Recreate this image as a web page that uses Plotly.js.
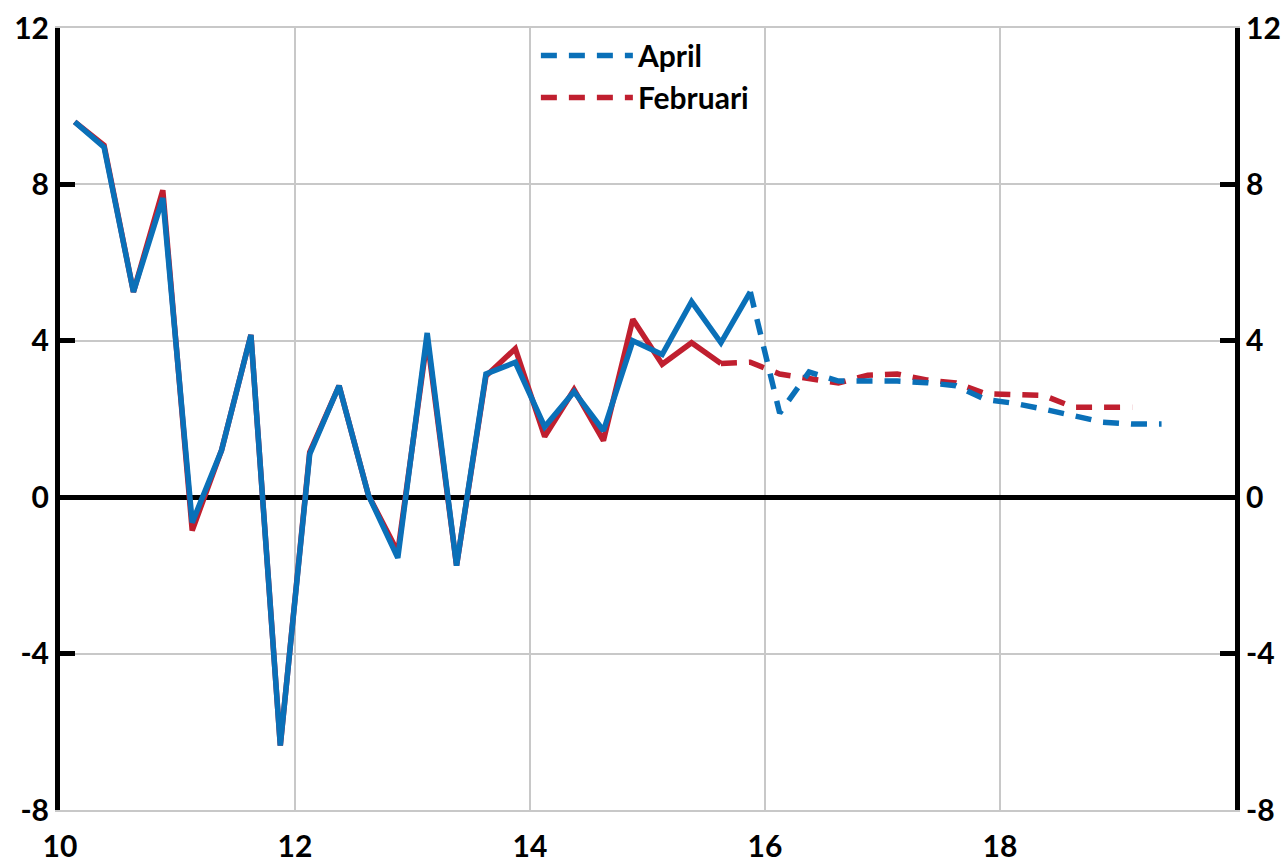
<!DOCTYPE html>
<html>
<head>
<meta charset="utf-8">
<script src="https://cdn.plot.ly/plotly-3.0.1.min.js"></script>
<style>
  html, body { margin: 0; padding: 0; background: #ffffff; }
  #chart { width: 1286px; height: 867px; }
</style>
</head>
<body>
<div id="chart"></div>
<script>
// Quarters (year 2010 = "10")
const quarters = [
  "10Q1","10Q2","10Q3","10Q4","11Q1","11Q2","11Q3","11Q4",
  "12Q1","12Q2","12Q3","12Q4","13Q1","13Q2","13Q3","13Q4",
  "14Q1","14Q2","14Q3","14Q4","15Q1","15Q2","15Q3","15Q4",
  "16Q1","16Q2","16Q3","16Q4","17Q1","17Q2","17Q3","17Q4",
  "18Q1","18Q2","18Q3","18Q4","19Q1","19Q2"
];

// April forecast: outcome through 15Q4, forecast afterwards
const aprilValues = [
  9.6, 8.95, 5.25, 7.65, -0.65, 1.2, 4.15, -6.35,
  1.1, 2.85, 0.05, -1.55, 4.2, -1.75, 3.15, 3.45,
  1.8, 2.7, 1.7, 4.0, 3.65, 5.0, 3.95, 5.25,
  2.15, 3.2, 2.97, 2.97, 2.97, 2.93, 2.85, 2.5,
  2.4, 2.25, 2.1, 1.92, 1.87, 1.87
];
const aprilLastOutcome = "15Q4";

// Februari forecast: outcome through 15Q3, forecast afterwards
const februariValues = [
  9.6, 9.0, 5.25, 7.85, -0.85, 1.2, 4.15, -6.35,
  1.15, 2.85, 0.05, -1.4, 4.05, -1.75, 3.1, 3.8,
  1.55, 2.75, 1.45, 4.55, 3.4, 3.95, 3.42, 3.45,
  3.15, 3.05, 2.92, 3.12, 3.15, 3.0, 2.92, 2.65,
  2.62, 2.6, 2.3, 2.3, 2.3
];
const februariLastOutcome = "15Q3";

const yTicks = [-8, -4, 0, 4, 8, 12];
const xTicks = [10, 12, 14, 16, 18];

// quarter label -> position on the year axis (middle of the quarter)
function qpos(q) {
  const yr = parseInt(q.slice(0, 2), 10);
  const qq = parseInt(q.slice(3), 10);
  return yr + (qq - 0.5) / 4;
}

function splitSeries(values, lastOutcome) {
  const xs = values.map((v, i) => qpos(quarters[i]));
  const cut = quarters.indexOf(lastOutcome);
  return {
    solidX: xs.slice(0, cut + 1), solidY: values.slice(0, cut + 1),
    dashX: xs.slice(cut), dashY: values.slice(cut)
  };
}

const BLUE = "#0a70b8";
const RED = "#c01f2f";
const LW = 5.5;
const DASH = "16px,12px";

const a = splitSeries(aprilValues, aprilLastOutcome);
const f = splitSeries(februariValues, februariLastOutcome);

const traces = [
  { x: f.solidX, y: f.solidY, mode: "lines", line: { color: RED, width: LW }, showlegend: false, hoverinfo: "skip" },
  { x: f.dashX, y: f.dashY, mode: "lines", name: "Februari", legendrank: 2,
    line: { color: RED, width: LW, dash: DASH } },
  { x: a.solidX, y: a.solidY, mode: "lines", line: { color: BLUE, width: LW }, showlegend: false, hoverinfo: "skip" },
  { x: a.dashX, y: a.dashY, mode: "lines", name: "April", legendrank: 1,
    line: { color: BLUE, width: LW, dash: DASH } },
  { x: [10, 20], y: [null, null], yaxis: "y2", mode: "lines", showlegend: false, hoverinfo: "skip" }
];

const tickFont = { family: "Lato, 'Open Sans', sans-serif", size: 30, color: "#000", weight: "bold" };

const layout = {
  width: 1286, height: 867,
  margin: { l: 60, r: 51, t: 28, b: 57 },
  paper_bgcolor: "#ffffff", plot_bgcolor: "#ffffff",
  showlegend: true,
  legend: {
    x: 0.405, y: 0.998, xanchor: "left", yanchor: "top",
    font: tickFont, bgcolor: "rgba(0,0,0,0)", borderwidth: 0,
    itemwidth: 92, traceorder: "normal"
  },
  xaxis: {
    range: [10, 20], tickvals: xTicks, ticktext: xTicks.map(String),
    showgrid: true, gridcolor: "#c8c8c8", gridwidth: 2,
    showline: true, linecolor: "#c8c8c8", linewidth: 2, mirror: true,
    zeroline: false,
    ticks: "outside", ticklen: 9, tickcolor: "rgba(0,0,0,0)",
    tickfont: tickFont
  },
  yaxis: {
    range: [-8, 12], tickvals: yTicks, ticktext: yTicks.map(String),
    showgrid: true, gridcolor: "#c8c8c8", gridwidth: 2,
    zeroline: true, zerolinecolor: "#000", zerolinewidth: 5,
    showline: true, linecolor: "#000", linewidth: 5,
    ticks: "inside", ticklen: 15, tickwidth: 5, tickcolor: "#000",
    tickfont: tickFont
  },
  yaxis2: {
    overlaying: "y", side: "right", anchor: "x",
    range: [-8, 12], tickvals: yTicks, ticktext: yTicks.map(String),
    showgrid: false, zeroline: false,
    showline: true, linecolor: "#000", linewidth: 5,
    ticks: "inside", ticklen: 15, tickwidth: 5, tickcolor: "#000",
    tickfont: tickFont
  }
};

Plotly.newPlot("chart", traces, layout, { displayModeBar: false, staticPlot: true });
</script>
</body>
</html>
